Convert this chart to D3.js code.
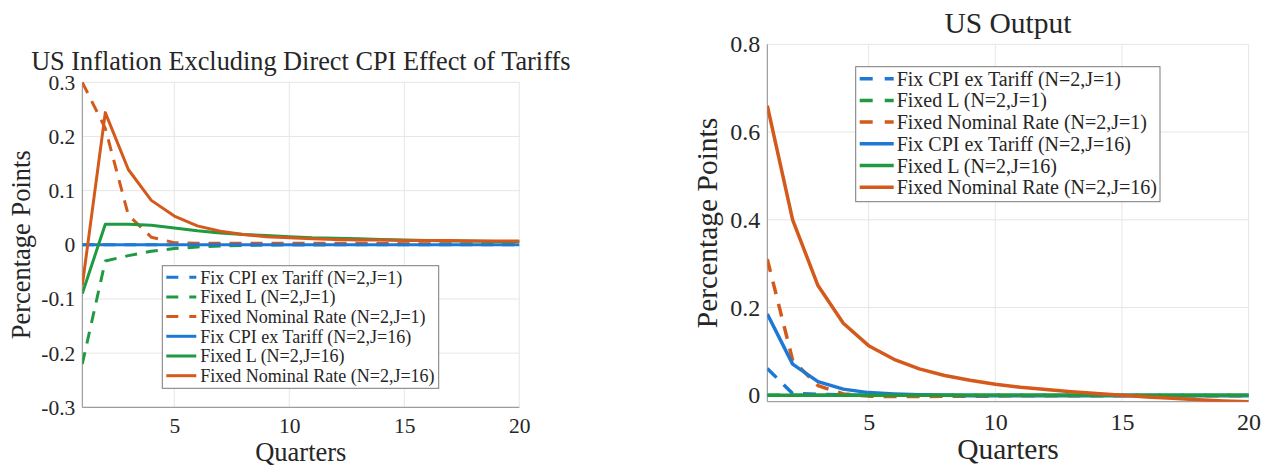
<!DOCTYPE html>
<html>
<head>
<meta charset="utf-8">
<script src="https://cdn.jsdelivr.net/npm/d3@7"></script>
<style>
  html, body { margin: 0; padding: 0; background: #fff; }
  svg { display: block; }
  svg text { font-family: "Liberation Serif", "Times New Roman", serif; fill: #262626; }
</style>
</head>
<body>
<svg id="chart" width="1262" height="466" font-family="Liberation Serif"></svg>
<script>
// ---------- data ----------
const quarters = [1,2,3,4,5,6,7,8,9,10,11,12,13,14,15,16,17,18,19,20];

const seriesNames = [
  "Fix CPI ex Tariff (N=2,J=1)",
  "Fixed L (N=2,J=1)",
  "Fixed Nominal Rate (N=2,J=1)",
  "Fix CPI ex Tariff (N=2,J=16)",
  "Fixed L (N=2,J=16)",
  "Fixed Nominal Rate (N=2,J=16)"
];

// US inflation excluding direct CPI effect of tariffs
const inflFixCpiJ1     = [0,0,0,0,0,0,0,0,0,0,0,0,0,0,0,0,0,0,0,0];
const inflFixedLJ1     = [-0.22,-0.03,-0.02,-0.012,-0.007,-0.004,-0.002,-0.001,-0.0005,0,0,0.0005,0.001,0.001,0.001,0.001,0.001,0.001,0.001,0.001];
const inflFixedRateJ1  = [0.3,0.215,0.055,0.014,0.004,0.003,0.003,0.003,0.003,0.003,0.003,0.003,0.003,0.003,0.002,0.002,0.002,0.002,0.002,0.002];
const inflFixCpiJ16    = [0,0,0,0,0,0,0,0,0,0,0,0,0,0,0,0,0,0,0,0];
const inflFixedLJ16    = [-0.09,0.038,0.038,0.036,0.031,0.026,0.022,0.019,0.017,0.015,0.013,0.012,0.011,0.010,0.009,0.008,0.007,0.007,0.006,0.006];
const inflFixedRateJ16 = [-0.075,0.244,0.139,0.082,0.053,0.035,0.025,0.019,0.015,0.013,0.011,0.010,0.009,0.009,0.008,0.008,0.008,0.007,0.007,0.007];

// US output
const outFixCpiJ1      = [0.061,0.004,0.002,0.001,0,0,0,0,0,0,0,0,0,0,0,0,0,0,0,0];
const outFixedLJ1      = [0,0,0,0,0,0,0,0,0,0,0,0,0,0,0,0,0,0,0,0];
const outFixedRateJ1   = [0.31,0.08,0.022,0.003,-0.002,-0.003,-0.003,-0.002,-0.002,-0.002,-0.001,-0.001,-0.001,-0.001,-0.001,-0.001,-0.001,-0.001,-0.001,-0.001];
const outFixCpiJ16     = [0.185,0.071,0.031,0.014,0.006,0.003,0.001,0,-0.001,-0.001,-0.001,-0.001,-0.001,-0.001,-0.001,-0.001,-0.001,-0.001,-0.001,-0.001];
const outFixedLJ16     = [0,0,0,0,0,0,0,0,0,0,0,0,0,0,0,0,0,0,0,0];
const outFixedRateJ16  = [0.66,0.40,0.25,0.164,0.113,0.082,0.06,0.045,0.034,0.025,0.018,0.013,0.008,0.004,0.000,-0.004,-0.007,-0.010,-0.013,-0.015];

const xTickValues = [5,10,15,20];
const xTickLabels = ["5","10","15","20"];
const leftYTickValues = [-0.3,-0.2,-0.1,0,0.1,0.2,0.3];
const leftYTickLabels = ["-0.3","-0.2","-0.1","0","0.1","0.2","0.3"];
const rightYTickValues = [0,0.2,0.4,0.6,0.8];
const rightYTickLabels = ["0","0.2","0.4","0.6","0.8"];

// ---------- styles ----------
const FONT = '"Liberation Serif", "Times New Roman", serif';
const colors = ["#1E78D6", "#1F9A40", "#D45A1C", "#1E78D6", "#1F9A40", "#D45A1C"];
const dashed = [true, true, true, false, false, false];

const svg = d3.select("#chart");

function panel(cfg) {
  const g = svg.append("g");
  const x = d3.scaleLinear().domain([1, 20]).range([cfg.left, cfg.right]);
  const y = d3.scaleLinear().domain(cfg.yDomain).range([cfg.bottom, cfg.top]);

  // grid
  const grid = g.append("g");
  grid.selectAll("line.gx").data(xTickValues).enter().append("line")
    .attr("x1", d => x(d)).attr("x2", d => x(d))
    .attr("y1", cfg.top).attr("y2", cfg.bottom)
    .attr("stroke", "#e6e6e6").attr("stroke-width", 1);
  grid.selectAll("line.gy").data(cfg.yTicks).enter().append("line")
    .attr("x1", cfg.left).attr("x2", cfg.right)
    .attr("y1", d => y(d)).attr("y2", d => y(d))
    .attr("stroke", "#e6e6e6").attr("stroke-width", 1);

  // axes (labels)
  const xAxis = d3.axisBottom(x).tickValues(xTickValues)
    .tickFormat((d, i) => xTickLabels[i]).tickSize(0).tickPadding(cfg.xPad);
  const xa = g.append("g").attr("transform", `translate(0,${cfg.bottom})`).call(xAxis);
  xa.attr("font-family", FONT).attr("font-size", cfg.tickFont);
  xa.select(".domain").remove();
  xa.selectAll("text").attr("fill", "#262626");

  const yAxis = d3.axisLeft(y).tickValues(cfg.yTicks)
    .tickFormat((d, i) => cfg.yLabels[i]).tickSize(0).tickPadding(7);
  const ya = g.append("g").attr("transform", `translate(${cfg.left},0)`).call(yAxis);
  ya.attr("font-family", FONT).attr("font-size", cfg.tickFont);
  ya.select(".domain").remove();
  ya.selectAll("text").attr("fill", "#262626");

  // axis lines (left & bottom)
  g.append("path")
    .attr("d", `M${cfg.left},${cfg.top}V${cfg.bottom}H${cfg.right}`)
    .attr("fill", "none").attr("stroke", "#8a8a8a").attr("stroke-width", 1);

  // clip
  const clipId = "clip" + cfg.id;
  svg.append("defs").append("clipPath").attr("id", clipId)
    .append("rect").attr("x", cfg.left).attr("y", cfg.top - 2)
    .attr("width", cfg.right - cfg.left + 1).attr("height", cfg.bottom - cfg.top + 2);

  const line = d3.line().x((d, i) => x(quarters[i])).y(d => y(d));
  const lines = g.append("g").attr("clip-path", `url(#${clipId})`);
  cfg.series.forEach((s, k) => {
    lines.append("path").datum(s)
      .attr("d", line)
      .attr("fill", "none")
      .attr("stroke", colors[k])
      .attr("stroke-width", cfg.lw)
      .attr("stroke-linejoin", "round")
      .attr("stroke-dasharray", dashed[k] ? cfg.dash : null);
  });

  // title
  g.append("text").attr("x", (cfg.left + cfg.right) / 2).attr("y", cfg.titleY)
    .attr("text-anchor", "middle").attr("font-family", FONT)
    .attr("font-size", cfg.titleFont).text(cfg.title);
  // x label
  g.append("text").attr("x", (cfg.left + cfg.right) / 2).attr("y", cfg.xLabelY)
    .attr("text-anchor", "middle").attr("font-family", FONT)
    .attr("font-size", cfg.labelFont).text("Quarters");
  // y label
  g.append("text")
    .attr("transform", `translate(${cfg.yLabelX},${(cfg.top + cfg.bottom) / 2}) rotate(-90)`)
    .attr("text-anchor", "middle").attr("font-family", FONT)
    .attr("font-size", cfg.labelFont).text("Percentage Points");

  // legend
  const L = cfg.legend;
  const lg = g.append("g");
  lg.append("rect").attr("x", L.x).attr("y", L.y).attr("width", L.w).attr("height", L.h)
    .attr("fill", "#fff").attr("stroke", "#7a7a7a").attr("stroke-width", 1);
  seriesNames.forEach((name, k) => {
    const cy = L.y + L.first + k * L.step;
    lg.append("line").attr("x1", L.x + L.s0).attr("x2", L.x + L.s1)
      .attr("y1", cy).attr("y2", cy)
      .attr("stroke", colors[k]).attr("stroke-width", cfg.lw)
      .attr("stroke-dasharray", dashed[k] ? L.dash : null);
    lg.append("text").attr("x", L.x + L.tx).attr("y", cy).attr("dy", "0.35em")
      .attr("font-family", FONT).attr("font-size", L.font).text(name);
  });
}

panel({
  id: "L",
  left: 82.3, right: 519.3, top: 82.3, bottom: 407.3,
  yDomain: [-0.3, 0.3], yTicks: leftYTickValues, yLabels: leftYTickLabels,
  series: [inflFixCpiJ1, inflFixedLJ1, inflFixedRateJ1, inflFixCpiJ16, inflFixedLJ16, inflFixedRateJ16],
  lw: 3, dash: "12,9",
  tickFont: 21.5, xPad: 10,
  title: "US Inflation Excluding Direct CPI Effect of Tariffs", titleY: 69.5, titleFont: 26.3,
  labelFont: 26.5, xLabelY: 461, yLabelX: 30,
  legend: { x: 162.3, y: 265.7, w: 276.4, h: 122.6, first: 11.5, step: 19.7,
            s0: 4, s1: 34, tx: 38, font: 18, dash: "12,11" }
});

panel({
  id: "R",
  left: 767.3, right: 1248.6, top: 44.3, bottom: 401.7,
  yDomain: [-0.0147, 0.8], yTicks: rightYTickValues, yLabels: rightYTickLabels,
  series: [outFixCpiJ1, outFixedLJ1, outFixedRateJ1, outFixCpiJ16, outFixedLJ16, outFixedRateJ16],
  lw: 3.5, dash: "13,10",
  tickFont: 24, xPad: 11,
  title: "US Output", titleY: 33, titleFont: 29.5,
  labelFont: 29.5, xLabelY: 459, yLabelX: 717,
  legend: { x: 855.7, y: 66.7, w: 304.3, h: 135, first: 12, step: 21.7,
            s0: 4, s1: 38, tx: 41, font: 20, dash: "13,12" }
});
</script>
</body>
</html>
